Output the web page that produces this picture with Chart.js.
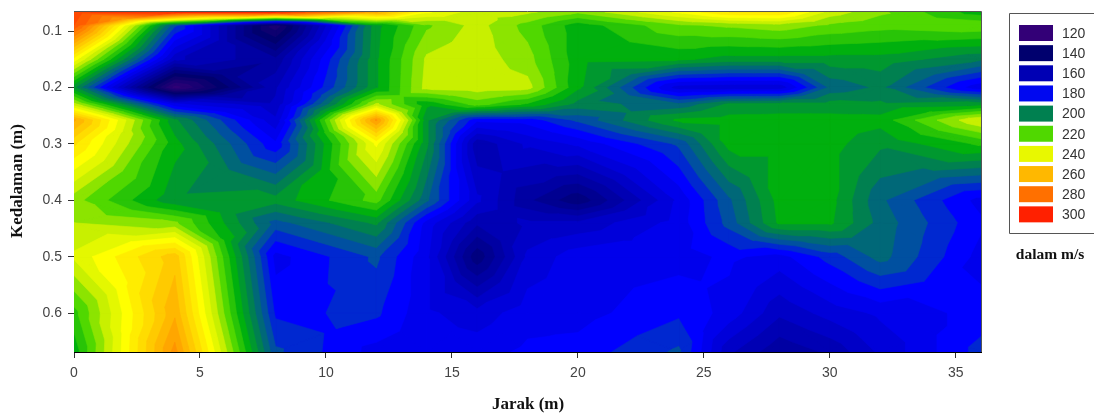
<!DOCTYPE html>
<html>
<head>
<title>Kedalaman</title>
<script src="https://cdn.jsdelivr.net/npm/chart.js"></script>
<style>
  html, body { margin: 0; padding: 0; background: #fff; overflow: hidden; }
  canvas { display: block; }
</style>
</head>
<body>
<canvas id="myChart" width="1094" height="414"></canvas>
<script>
const distances = [0, 4, 8, 12, 14, 16, 18, 20, 24, 26, 28, 30, 32, 36];
const depths = [0.0663, 0.09, 0.15, 0.2, 0.23, 0.258, 0.3, 0.4, 0.44, 0.5, 0.6, 0.669];

// velocity in m/s, one list per depth
const row0 = [294, 300, 300, 266, 241, 232, 231, 226, 241, 250, 250, 233, 226, 212];
const row1 = [290, 191, 131, 208, 224, 232, 223, 212, 224, 226, 228, 224, 222, 224];
const row2 = [243, 166, 156, 209, 231, 233, 227, 212, 211, 208, 208, 208, 208, 201];
const row3 = [206, 122, 164, 209, 232, 233, 232, 211, 172, 171, 171, 196, 201, 176];
const row4 = [232, 176, 166, 231, 211, 222, 214, 203, 196, 206, 207, 207, 206, 208];
const row5 = [266, 206, 171, 271, 206, 181, 182, 191, 211, 212, 212, 212, 212, 235];
const row6 = [251, 212, 181, 241, 206, 161, 171, 176, 191, 212, 212, 212, 206, 216];
const row7 = [227, 206, 207, 222, 196, 171, 156, 146, 176, 194, 212, 212, 196, 178];
const row8 = [230, 226, 193, 206, 178, 161, 166, 166, 177, 192, 211, 211, 198, 181];
const row9 = [236, 258, 178, 191, 176, 146, 171, 178, 178, 181, 178, 187, 197, 178];
const row10 = [218, 264, 184, 186, 176, 172, 178, 178, 184, 178, 166, 172, 176, 182];
const row11 = [212, 272, 191, 178, 178, 178, 181, 182, 191, 166, 156, 161, 171, 187];
const grid = [row0, row1, row2, row3, row4, row5, row6, row7, row8, row9, row10, row11];

const legendValues = [120, 140, 160, 180, 200, 220, 240, 260, 280, 300];
const legendColors = ['#330077', '#00006e', '#0000b4', '#0008f0', '#008050', '#50d800', '#e8f800', '#ffb800', '#ff7000', '#ff2000'];

const rampStops = [
    [120, [51, 0, 119]],
    [140, [0, 0, 110]],
    [160, [0, 0, 180]],
    [180, [0, 0, 255]],
    [190, [0, 80, 160]],
    [200, [0, 128, 80]],
    [210, [0, 176, 14]],
    [220, [80, 216, 0]],
    [230, [200, 240, 0]],
    [240, [255, 255, 0]],
    [260, [255, 184, 0]],
    [280, [255, 112, 0]],
    [300, [255, 32, 0]]
];
const bandStep = 5;

function rampColor(v) {
    for (let i = 0; i < rampStops.length - 1; i++) {
        const a = rampStops[i], b = rampStops[i + 1];
        if (v <= b[0]) {
            const t = (v - a[0]) / (b[0] - a[0]);
            const c = a[1].map((k, n) => Math.round(k + (b[1][n] - k) * t));
            return 'rgb(' + c.join(',') + ')';
        }
    }
    return 'rgb(255,32,0)';
}

// part of a triangle where value >= lo
function clipTriangle(tri, lo) {
    const out = [];
    for (let i = 0; i < 3; i++) {
        const p = tri[i], q = tri[(i + 1) % 3];
        if (p.v >= lo) out.push(p);
        if ((p.v >= lo) !== (q.v >= lo)) {
            const t = (lo - p.v) / (q.v - p.v);
            out.push({ x: p.x + (q.x - p.x) * t, y: p.y + (q.y - p.y) * t, v: lo });
        }
    }
    return out;
}

const contourPlugin = {
    id: 'contour',
    beforeDatasetsDraw(chart) {
        const ctx = chart.ctx, sx = chart.scales.x, sy = chart.scales.y, area = chart.chartArea;
        const tris = [];
        for (let r = 0; r < depths.length - 1; r++) {
            for (let c = 0; c < distances.length - 1; c++) {
                const a = { x: sx.getPixelForValue(distances[c]), y: sy.getPixelForValue(depths[r]), v: grid[r][c] };
                const b = { x: sx.getPixelForValue(distances[c + 1]), y: sy.getPixelForValue(depths[r]), v: grid[r][c + 1] };
                const d = { x: sx.getPixelForValue(distances[c + 1]), y: sy.getPixelForValue(depths[r + 1]), v: grid[r + 1][c + 1] };
                const e = { x: sx.getPixelForValue(distances[c]), y: sy.getPixelForValue(depths[r + 1]), v: grid[r + 1][c] };
                const m = { x: (a.x + b.x) / 2, y: (a.y + e.y) / 2, v: (a.v + b.v + d.v + e.v) / 4 };
                tris.push([a, b, m], [b, d, m], [d, e, m], [e, a, m]);
            }
        }
        ctx.save();
        ctx.beginPath();
        ctx.rect(area.left, area.top, area.right - area.left, area.bottom - area.top);
        ctx.clip();
        ctx.lineWidth = 0.6;
        for (let lo = 115; lo < 305; lo += bandStep) {
            const col = rampColor(Math.max(lo, 120));
            ctx.fillStyle = col;
            ctx.strokeStyle = col;
            ctx.beginPath();
            tris.forEach(t => {
                const poly = clipTriangle(t, lo);
                if (poly.length < 3) return;
                ctx.moveTo(poly[0].x, poly[0].y);
                for (let i = 1; i < poly.length; i++) ctx.lineTo(poly[i].x, poly[i].y);
                ctx.closePath();
            });
            ctx.fill();
            ctx.stroke();
        }
        ctx.restore();
    },
    afterDraw(chart) {
        const ctx = chart.ctx, area = chart.chartArea;
        ctx.save();
        // frame of the plot
        ctx.strokeStyle = '#555';
        ctx.lineWidth = 1;
        ctx.beginPath();
        ctx.moveTo(area.left, area.top - 0.5);
        ctx.lineTo(area.right + 0.5, area.top - 0.5);
        ctx.lineTo(area.right + 0.5, area.bottom);
        ctx.stroke();

        // axis titles
        ctx.fillStyle = '#111';
        ctx.font = 'bold 17px "Liberation Serif"';
        ctx.textAlign = 'center';
        ctx.textBaseline = 'middle';
        ctx.fillText('Jarak (m)', 528, 405);
        ctx.save();
        ctx.translate(18, 181);
        ctx.rotate(-Math.PI / 2);
        ctx.fillText('Kedalaman (m)', 0, 0);
        ctx.restore();

        // legend box
        ctx.strokeStyle = '#555';
        ctx.beginPath();
        ctx.moveTo(1094, 13.5);
        ctx.lineTo(1009.5, 13.5);
        ctx.lineTo(1009.5, 233.5);
        ctx.lineTo(1094, 233.5);
        ctx.stroke();
        ctx.font = '14px "Liberation Sans"';
        ctx.textAlign = 'left';
        legendValues.forEach((v, i) => {
            const top = 25 + i * 20.15;
            ctx.fillStyle = legendColors[i];
            ctx.fillRect(1019, top, 34, 16);
            ctx.fillStyle = '#333';
            ctx.fillText(String(v), 1062, top + 9);
        });
        ctx.fillStyle = '#111';
        ctx.font = 'bold 15.5px "Liberation Serif"';
        ctx.textAlign = 'center';
        ctx.fillText('dalam m/s', 1050, 255);
        ctx.restore();
    }
};

const points = [];
depths.forEach((d, r) => distances.forEach((x, c) => points.push({ x: x, y: d, v: grid[r][c] })));

const ctx = document.getElementById('myChart').getContext('2d');
const myChart = new Chart(ctx, {
    type: 'scatter',
    data: { datasets: [{ label: 'Kecepatan', data: points, pointRadius: 0 }] },
    options: {
        responsive: false,
        animation: false,
        layout: { padding: { left: 0, right: 113, top: 12, bottom: 0 } },
        plugins: { legend: { display: false }, tooltip: { enabled: false } },
        scales: {
            x: {
                type: 'linear',
                min: 0,
                max: 36,
                afterFit(s) { s.height = 62; s.paddingLeft = 0; s.paddingRight = 0; },
                afterBuildTicks(s) { s.ticks = [0, 5, 10, 15, 20, 25, 30, 35].map(v => ({ value: v })); },
                grid: { drawOnChartArea: false, tickLength: 6, color: '#333', tickColor: '#333' },
                border: { color: '#000', width: 1 },
                ticks: { color: '#444', font: { family: '"Liberation Sans"', size: 14 }, padding: 7, maxRotation: 0, callback: v => String(v) }
            },
            y: {
                type: 'linear',
                reverse: true,
                min: 0.0663,
                max: 0.669,
                afterFit(s) { s.width = 74; s.paddingTop = 0; s.paddingBottom = 0; },
                afterBuildTicks(s) { s.ticks = [0.1, 0.2, 0.3, 0.4, 0.5, 0.6].map(v => ({ value: v })); },
                grid: { drawOnChartArea: false, tickLength: 6, color: '#333', tickColor: '#333' },
                border: { color: '#000', width: 1 },
                ticks: { color: '#444', font: { family: '"Liberation Sans"', size: 14 }, padding: 6, callback: v => v.toFixed(1) }
            }
        }
    },
    plugins: [contourPlugin]
});
</script>
</body>
</html>
